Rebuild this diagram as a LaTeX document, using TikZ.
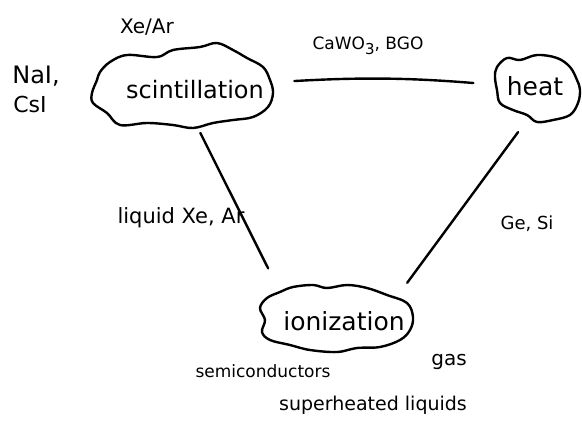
\documentclass[tikz,border=0pt]{standalone}
\usepackage{fontspec}
\setmainfont{DejaVu Sans}
\usetikzlibrary{shapes.geometric}
\begin{document}
\begin{tikzpicture}[x=1pt,y=-1pt,
  ink/.style={line width=2.4pt, line cap=round, line join=round},
  blob/.style={ellipse, inner sep=0pt, outer sep=0pt},
  txt/.style={inner sep=0pt, font=\fontsize{#1}{#1}\selectfont},
]
\useasboundingbox (0,0) rectangle (582,431);

% invisible frames of the three clouds, used as connector anchors
\node[blob, minimum width=184pt, minimum height=84pt] (scint) at (183,87) {};
\node[blob, minimum width=85pt, minimum height=67pt] (heat) at (537.5,88.5) {};
\node[blob, minimum width=156pt, minimum height=66pt] (ion) at (338,318) {};

% cloud outlines
\draw[ink] plot[smooth cycle, tension=0.6] coordinates {
  (100,72) (110,62) (127,55) (157,57) (173,50) (200,47) (217,43) (233,50)
  (247,58) (263,67) (270,80) (273,93) (268,107) (253,117) (233,120)
  (213,123) (193,128) (173,125) (147,123) (120,125) (107,113) (93,103)
  (92,93) (97,80)};
\draw[ink] plot[smooth cycle, tension=0.6] coordinates {
  (497,67) (507,58) (520,60) (537,55) (557,58) (570,67) (577,80) (580,90)
  (578,103) (570,115) (553,120) (537,122) (527,115) (513,110) (500,103)
  (497,90) (495,77)};
\draw[ink] plot[smooth cycle, tension=0.6] coordinates {
  (267,298) (280,292) (293,287) (313,285) (327,288) (347,285) (367,288)
  (387,295) (407,303) (413,317) (410,330) (400,340) (380,347) (357,348)
  (337,352) (310,350) (290,345) (270,340) (262,332) (265,320) (260,308)};

% cloud captions
\node[txt=24] (scinttext) at (195,90) {scintillation};
\node[txt=25] (heattext) at (535,86) {heat};
\node[txt=25] (iontext) at (344,321) {ionization};

% connectors
\draw[ink, shorten <=20pt, shorten >=22pt] (scint.3) to[bend left=4] (heat.175);
\draw[ink, shorten <=5pt, shorten >=30pt] (scint.-70) -- (ion.158);
\draw[ink, shorten <=14pt, shorten >=17pt] (heat.-109) -- (ion.20);

% materials
\node[txt=20] (xear) at (147,27) {Xe/Ar};
\node[txt=24] (nai) at (36,76) {NaI,};
\node[txt=22] (csi) at (30,104) {CsI};
\node[txt=17] (cawo) at (368,46)
  {CaWO\raisebox{-5pt}{\fontsize{15}{15}\selectfont 3}, BGO};
\node[txt=21] (liqxe) at (181,218) {liquid Xe, Ar};
\node[txt=18] (gesi) at (527,224) {Ge, Si};
\node[txt=20] (gas) at (449,362) {gas};
\node[txt=17] (semi) at (263,371) {semiconductors};
\node[txt=19] (superh) at (373,405) {superheated liquids};
\end{tikzpicture}
\end{document}
